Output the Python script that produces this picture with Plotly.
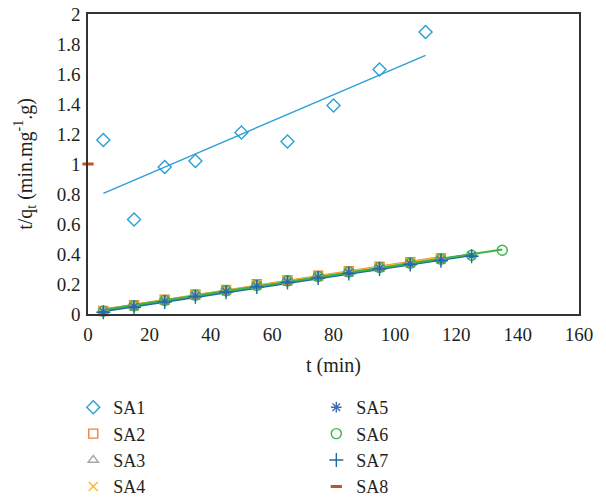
import numpy as np
import plotly.graph_objects as go

# ---- data ----
t_sa1 = [5, 15, 25, 35, 50, 65, 80, 95, 110]
sa1 = [1.16, 0.63, 0.98, 1.02, 1.21, 1.15, 1.39, 1.63, 1.88]

t_short = [5, 15, 25, 35, 45, 55, 65, 75, 85, 95, 105, 115]
t_mid = [5, 15, 25, 35, 45, 55, 65, 75, 85, 95, 105, 115, 125]
t_long = [5, 15, 25, 35, 45, 55, 65, 75, 85, 95, 105, 115, 125, 135]

sa2 = [0.020, 0.058, 0.095, 0.130, 0.160, 0.198, 0.225, 0.255, 0.285, 0.315, 0.345, 0.372]
sa3 = [0.018, 0.055, 0.090, 0.125, 0.155, 0.190, 0.220, 0.250, 0.280, 0.310, 0.340, 0.365]
sa4 = [0.020, 0.057, 0.092, 0.128, 0.158, 0.195, 0.223, 0.252, 0.283, 0.312, 0.342, 0.368]
sa5 = [0.015, 0.050, 0.085, 0.120, 0.150, 0.185, 0.215, 0.245, 0.275, 0.305, 0.335, 0.360, 0.390]
sa6 = [0.018, 0.055, 0.090, 0.125, 0.155, 0.190, 0.220, 0.250, 0.280, 0.310, 0.338, 0.365, 0.392, 0.425]
sa7 = [0.012, 0.045, 0.080, 0.115, 0.145, 0.180, 0.210, 0.240, 0.270, 0.300, 0.330, 0.355, 0.385]
t_sa8 = [0]
sa8 = [1.0]

x_ticks = [0, 20, 40, 60, 80, 100, 120, 140, 160]
y_ticks = [0, 0.2, 0.4, 0.6, 0.8, 1, 1.2, 1.4, 1.6, 1.8, 2]
y_ticktext = ["0", "0.2", "0.4", "0.6", "0.8", "1", "1.2", "1.4", "1.6", "1.8", "2"]

# name, x, y, colour, symbol, size, legend column
series = [
    ("SA1", t_sa1, sa1, "#2A9FD8", "diamond-open", 10, "legend"),
    ("SA2", t_short, sa2, "#F0813A", "square-open", 9, "legend"),
    ("SA3", t_short, sa3, "#A8A8A8", "triangle-up-open", 9, "legend"),
    ("SA4", t_short, sa4, "#FDB827", "x-thin-open", 9, "legend"),
    ("SA5", t_mid, sa5, "#3C6DB4", "asterisk-open", 9, "legend2"),
    ("SA6", t_long, sa6, "#3BB44A", "circle-open", 10, "legend2"),
    ("SA7", t_mid, sa7, "#1F6BA5", "cross-thin-open", 10, "legend2"),
    ("SA8", t_sa8, sa8, "#C0561B", "line-ew-open", 8, "legend2"),
]

fig = go.Figure()

# trendlines first (below markers), fitted from the data
trend_order = ["SA2", "SA3", "SA4", "SA5", "SA7", "SA6", "SA1"]
lookup = {s[0]: s for s in series}
for name in trend_order:
    _, xs, ys, col, _, _, _ = lookup[name]
    if len(xs) < 2:
        continue
    k, b = np.polyfit(xs, ys, 1)
    xl = np.array([min(xs), max(xs)])
    fig.add_trace(go.Scatter(
        x=xl, y=k * xl + b, mode="lines",
        line=dict(color=col, width=1.4 if name == "SA1" else 2),
        showlegend=False, hoverinfo="skip"))

for name, xs, ys, col, sym, size, lg in series:
    lw = 3 if sym.startswith("line") else 1.4
    fig.add_trace(go.Scatter(
        x=xs, y=ys, mode="markers", name=name, legend=lg,
        marker=dict(symbol=sym, size=size, color=col,
                    line=dict(color=col, width=lw)),
        cliponaxis=False))

font_family = "Liberation Serif"

legend_top = 1 - 389 / 498  # container fraction
legend_common = dict(yanchor="top", xanchor="left", orientation="v",
                     xref="paper", yref="container", y=legend_top,
                     font=dict(size=18, family=font_family, color="#231F20"),
                     bgcolor="rgba(0,0,0,0)", itemwidth=30)

fig.update_layout(
    width=606, height=498,
    margin=dict(l=88, r=27, t=14, b=184),
    paper_bgcolor="white", plot_bgcolor="white",
    font=dict(family=font_family, size=16, color="#231F20"),
    xaxis=dict(range=[0, 160], tickvals=x_ticks, showgrid=False, zeroline=False,
               showline=True, linecolor="#333", linewidth=1.5, mirror=True,
               ticks="", tickfont=dict(size=19), automargin=False,
               ticklabelstandoff=2,
               title=dict(text="t (min)", font=dict(size=20), standoff=14)),
    yaxis=dict(range=[0, 2], tickvals=y_ticks, ticktext=y_ticktext, showgrid=False,
               zeroline=False, showline=True, linecolor="#333", linewidth=1.5,
               mirror=True, ticks="", tickfont=dict(size=19), automargin=False,
               ticklabelstandoff=2,
               title=dict(text="t/q<sub>t</sub> (min.mg<sup>-1</sup>.g)",
                          font=dict(size=20), standoff=19)),
    legend=dict(x=-0.03, **legend_common),
    legend2=dict(x=0.465, **legend_common),
)

fig.write_html("out.html")
